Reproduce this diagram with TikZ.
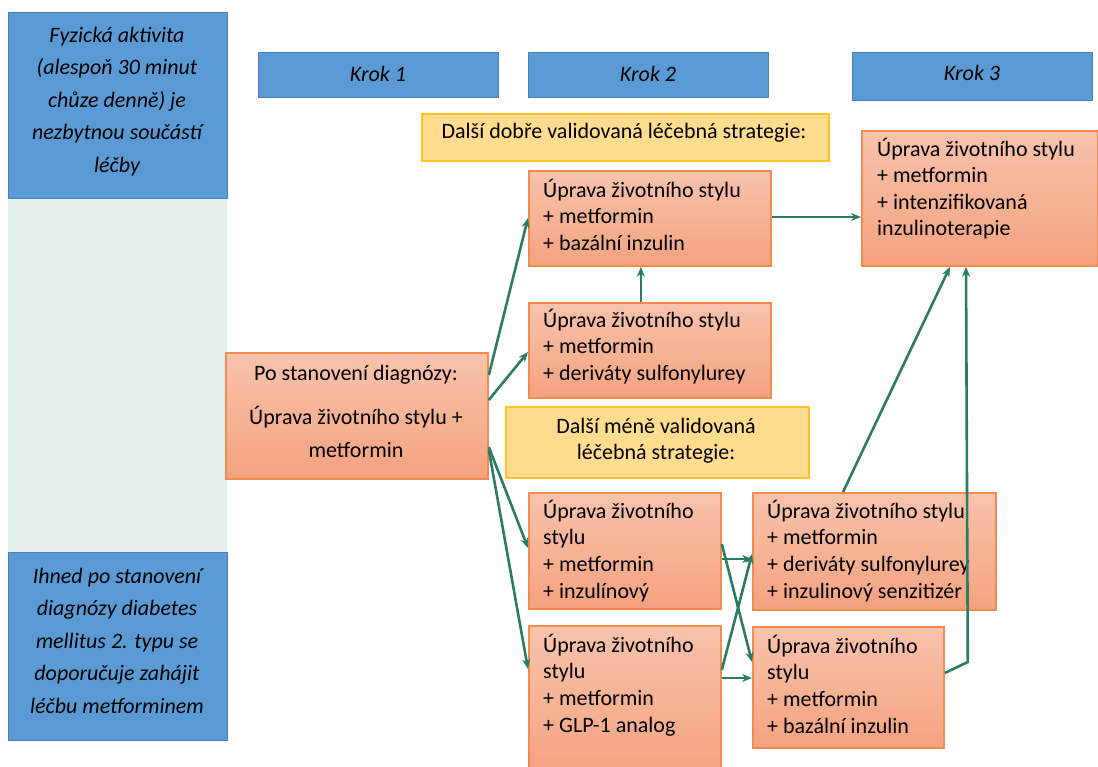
\documentclass[tikz,border=0pt]{standalone}
\usepackage{fontspec}
\setmainfont{Carlito}
\usetikzlibrary{arrows.meta,calc}
\definecolor{bluefill}{HTML}{5B9BD5}
\definecolor{blueline}{HTML}{4A7EBB}
\definecolor{greenbg}{HTML}{E5F1EC}
\definecolor{ortop}{HTML}{F8C3AC}
\definecolor{orbot}{HTML}{F4A27F}
\definecolor{orline}{HTML}{F28C4E}
\definecolor{yelfill}{HTML}{FFDC8E}
\definecolor{yelline}{HTML}{FFC526}
\definecolor{arrowc}{HTML}{2C7C63}
\newcommand\fl{\rule{0pt}{20pt}}
\begin{document}
\begin{tikzpicture}[x=1pt,y=-1pt,
  fnt/.style={font=\fontsize{22}{26.6}\selectfont},
  bluebox/.style={draw=blueline, line width=1.2pt, fill=bluefill, inner sep=0, anchor=north west},
  orbox/.style={draw=orline, line width=1.8pt, top color=ortop, bottom color=orbot, inner sep=0, anchor=north west},
  yelbox/.style={draw=yelline, line width=1.8pt, fill=yelfill, inner sep=0, anchor=north west},
  txt/.style={fnt, inner sep=0, align=left, anchor=north west},
  ctxt/.style={fnt, inner sep=0, align=center, anchor=north},
  itxt/.style={font=\fontsize{22}{32.5}\selectfont\itshape, inner sep=0, align=center, anchor=north},
  conn/.style={draw=arrowc, line width=2.6pt, -{Stealth[length=10pt,width=8pt]}},
]
\useasboundingbox (0,0) rectangle (1098,767);

% left column
\node[fill=greenbg, inner sep=0, anchor=north west, minimum width=219, minimum height=354] (bg) at (8,198) {};
\node[bluebox, minimum width=219, minimum height=186] (L1) at (8,12) {};
\node[bluebox, minimum width=219, minimum height=188] (L2) at (8,552) {};
\node[itxt] (tL1) at (117,22) {\fl Fyzická aktivita\\(alespoň 30 minut\\chůze denně) je\\nezbytnou součástí\\léčby};
\node[itxt] (tL2) at (117,563) {\fl Ihned po stanovení\\diagnózy diabetes\\mellitus 2. typu se\\doporučuje zahájit\\léčbu metforminem};

% steps
\node[bluebox, minimum width=240, minimum height=45] (K1) at (258,52) {};
\node[bluebox, minimum width=240, minimum height=45] (K2) at (528,52) {};
\node[bluebox, minimum width=240, minimum height=48] (K3) at (852,52) {};
\node[itxt] (tK1) at (378,61) {\fl Krok 1};
\node[itxt] (tK2) at (648,61) {\fl Krok 2};
\node[itxt] (tK3) at (972,60) {\fl Krok 3};

% yellow labels
\node[yelbox, minimum width=407, minimum height=47] (Y1) at (421,113) {};
\node[ctxt] (tY1) at (624,118) {\fl Další dobře validovaná léčebná strategie:};
\node[yelbox, minimum width=303, minimum height=71] (Y2) at (505,406) {};
\node[ctxt] (tY2) at (656,413) {\fl Další méně validovaná\\léčebná strategie:};

% orange boxes
\node[orbox, minimum width=262, minimum height=126] (M) at (225,352) {};
\node[ctxt] (tM1) at (356,360) {\fl Po stanovení diagnózy:};
\node[ctxt, font=\fontsize{22}{33}\selectfont] (tM2) at (356,404) {\fl Úprava životního stylu +\\metformin};

\node[orbox, minimum width=242, minimum height=95] (A) at (528,170) {};
\node[txt] (tA) at (543,177) {\fl Úprava životního stylu\\+ metformin\\+ bazální inzulin};

\node[orbox, minimum width=242, minimum height=95] (B) at (528,302) {};
\node[txt] (tB) at (543,307) {\fl Úprava životního stylu\\+ metformin\\+ deriváty sulfonylurey};

\node[orbox, minimum width=236, minimum height=135] (C) at (861,130) {};
\node[txt] (tC) at (877,136) {\fl Úprava životního stylu\\+ metformin\\+ intenzifikovaná\\inzulinoterapie};

\node[orbox, minimum width=192, minimum height=116] (D) at (528,492) {};
\node[txt] (tD) at (543,498) {\fl Úprava životního\\stylu\\+ metformin\\+ inzulínový};

\node[orbox, minimum width=192, minimum height=150] (E) at (528,625) {};
\node[txt] (tE) at (543,632) {\fl Úprava životního\\stylu\\+ metformin\\+ GLP-1 analog};

\node[orbox, minimum width=243, minimum height=117] (F) at (752,492) {};
\node[txt] (tF) at (767,498) {\fl Úprava životního stylu\\+ metformin\\+ deriváty sulfonylurey\\+ inzulinový senzitizér};

\node[orbox, minimum width=191, minimum height=121] (G) at (752,626) {};
\node[txt] (tG) at (767,633) {\fl Úprava životního\\stylu\\+ metformin\\+ bazální inzulin};

% connectors
\draw[conn] ($(M.north east)+(0,23)$) -- ($(A.north west)+(0,48)$);
\draw[conn] ($(M.north east)+(0,48)$) -- ($(B.north west)+(0,50)$);
\draw[conn] ($(M.north east)+(0,95)$) -- ($(D.north west)+(0,56)$);
\draw[conn] ($(M.north east)+(0,98)$) -- ($(E.north west)+(0,44)$);
\draw[conn] ($(B.north)+(-9,0)$) -- ($(A.south)+(-9,0)$);
\draw[conn] ($(A.north east)+(0,47)$) -- ($(C.north west)+(0,87)$);
\draw[conn] ($(D.north east)+(0,67)$) -- ($(F.north west)+(0,67)$);
\draw[conn] ($(D.north east)+(0,52)$) -- ($(G.north west)+(0,36)$);
\draw[conn] ($(E.north east)+(0,45)$) -- ($(F.north west)+(0,62)$);
\draw[conn] ($(E.north east)+(0,53)$) -- ($(G.north west)+(0,52)$);
\draw[conn] ($(F.north west)+(91,0)$) -- ($(C.south west)+(89,0)$);
\coordinate (bend) at ($(G.north east)+(23,36)$);
\draw[conn] ($(G.north east)+(0,47)$) -- (bend) -- ($(C.south west)+(105,0)$);
\end{tikzpicture}
\end{document}
